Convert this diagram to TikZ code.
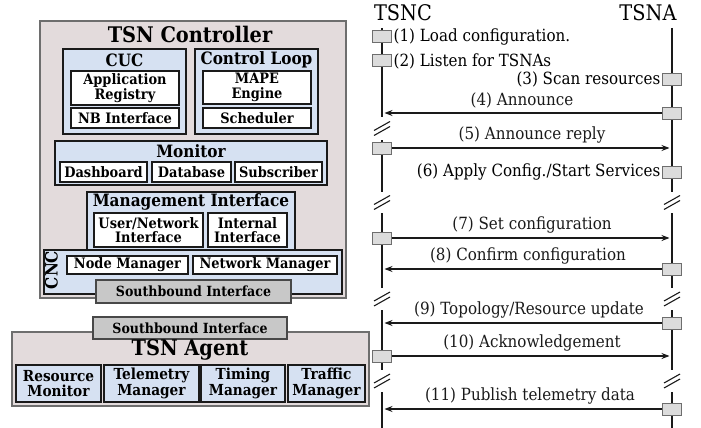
\documentclass[tikz,border=0pt]{standalone}
\usepackage{fontspec}
\setmainfont{DejaVu Serif}[FakeStretch=0.9]
\usetikzlibrary{arrows.meta}

\definecolor{ctrlfill}{HTML}{E3DBDC}
\definecolor{blockfill}{HTML}{D6E1F2}
\definecolor{sbifill}{HTML}{C8C8C8}
\definecolor{actfill}{HTML}{DCDCDC}
\definecolor{edgegray}{HTML}{6E6E6E}
\definecolor{ink}{HTML}{1A1A1A}

\tikzset{
  outerbox/.style={draw=edgegray, line width=1.5pt, fill=ctrlfill, inner sep=0pt},
  blockbox/.style={draw=ink, line width=1.8pt, fill=blockfill, inner sep=0pt},
  itembox/.style={draw=ink, line width=1.3pt, fill=white, inner sep=0pt, align=center,
    font=\bfseries\fontsize{14.4}{14.6}\selectfont},
  agentitem/.style={itembox, fill=blockfill, font=\bfseries\fontsize{15.2}{15.8}\selectfont},
  sbibox/.style={draw=ink!80, line width=1.3pt, fill=sbifill, inner sep=0pt,
    font=\bfseries\fontsize{14}{14}\selectfont},
  bigtitle/.style={font=\bfseries\fontsize{21.5}{21.5}\selectfont, inner sep=0pt},
  blocktitle/.style={font=\bfseries\fontsize{17}{17}\selectfont, inner sep=0pt},
  lifeline/.style={line width=2.6pt, ink},
  breakmark/.style={line width=1.1pt, ink},
  actbox/.style={draw=edgegray, line width=1pt, fill=actfill, minimum width=19, minimum height=12, inner sep=0pt},
  msg/.style={-{Stealth[length=8pt,width=6pt]}, line width=1.2pt, ink, shorten >=2.5pt},
  msglabel/.style={font=\fontsize{16.8}{16.8}\selectfont, inner sep=0pt, above=4pt},
  steplabel/.style={font=\fontsize{16.8}{16.8}\selectfont, inner sep=1.5pt},
  actor/.style={font=\fontsize{21.5}{21.5}\selectfont, inner sep=0pt}
}

\begin{document}
\begin{tikzpicture}[x=1pt, y=-1pt]
  \useasboundingbox (0,0) rectangle (701,428);

  % TSN controller
  \node[outerbox, minimum width=306, minimum height=277] (ctrl) at (193,159.5) {};
  \node[bigtitle] (ctrltitle) at (190,34) {TSN Controller};

  \node[blockbox, minimum width=123, minimum height=85] (cuc) at (124.5,91.5) {};
  \node[blocktitle] (cuctitle) at (124.5,60) {CUC};
  \node[itembox, minimum width=108, minimum height=34] (appreg) at (125,88) {Application\\Registry};
  \node[itembox, minimum width=108, minimum height=20] (nbif) at (125,118) {NB Interface};

  \node[blockbox, minimum width=123, minimum height=85] (loop) at (256.5,91.5) {};
  \node[blocktitle] (looptitle) at (256.5,60) {Control Loop};
  \node[itembox, minimum width=108, minimum height=33] (mape) at (257,87.5) {MAPE\\Engine};
  \node[itembox, minimum width=108, minimum height=20] (sched) at (257,118) {Scheduler};

  \node[blockbox, minimum width=272, minimum height=44] (mon) at (191,163) {};
  \node[blocktitle] (montitle) at (191,151) {Monitor};
  \node[itembox, minimum width=87, minimum height=20] (dash) at (103.5,172) {Dashboard};
  \node[itembox, minimum width=79, minimum height=20] (db) at (191.5,172) {Database};
  \node[itembox, minimum width=87, minimum height=20] (sub) at (278.5,172) {Subscriber};

  \node[blockbox, minimum width=208, minimum height=58] (mgmt) at (191,221) {};
  \node[blocktitle] (mgmttitle) at (191,202) {Management Interface};
  \node[itembox, minimum width=109, minimum height=34] (usernet) at (148.5,230) {User/Network\\Interface};
  \node[itembox, minimum width=79, minimum height=34] (internal) at (247.5,230) {Internal\\Interface};

  \node[blockbox, minimum width=298, minimum height=44] (cnc) at (193,272) {};
  \node[blocktitle, rotate=90] (cnctitle) at (51.5,270) {CNC};
  \node[itembox, minimum width=121, minimum height=18] (nodemgr) at (127.5,265) {Node Manager};
  \node[itembox, minimum width=144, minimum height=18] (netmgr) at (265,265) {Network Manager};
  \node[sbibox, minimum width=195, minimum height=23] (sbictrl) at (193.5,291.5) {Southbound Interface};

  % TSN agent
  \node[outerbox, minimum width=357, minimum height=74] (agent) at (190.5,369) {};
  \node[sbibox, minimum width=194, minimum height=22] (sbiagent) at (190,328) {Southbound Interface};
  \node[bigtitle] (agenttitle) at (190,350) {TSN Agent};
  \node[agentitem, minimum width=85, minimum height=37] (resmon) at (58.5,383.5) {Resource\\Monitor};
  \node[agentitem, minimum width=95, minimum height=37] (telmgr) at (151.5,383.5) {Telemetry\\Manager};
  \node[agentitem, minimum width=84, minimum height=37] (timmgr) at (243,383.5) {Timing\\Manager};
  \node[agentitem, minimum width=77, minimum height=37] (trafmgr) at (326.5,383.5) {Traffic\\Manager};

  % sequence
  \node[actor] (tsnc) at (403,13) {TSNC};
  \node[actor] (tsna) at (648,13) {TSNA};
  \coordinate (ctop) at (382,28);
  \coordinate (atop) at (672,28);

  \draw[lifeline] (382,28) -- (382,117) (382,140) -- (382,192) (382,213) -- (382,288)
    (382,310) -- (382,370) (382,392) -- (382,428);
  \draw[lifeline] (672,28) -- (672,192) (672,213) -- (672,288)
    (672,310) -- (672,370) (672,392) -- (672,428);
  \foreach \x/\y in {382/128.5, 382/202.5, 672/202.5, 382/299, 672/299, 382/381, 672/381}
    \draw[breakmark] (\x-8,\y+2) -- (\x+8,\y-7) (\x-8,\y+7) -- (\x+8,\y-2);

  \node[actbox] (act1) at (382,37) {};
  \node[actbox] (act2) at (382,61) {};
  \node[actbox] (act3) at (672,79) {};
  \node[actbox] (act4) at (672,113) {};
  \node[actbox] (act5) at (382,148) {};
  \node[actbox] (act6) at (672,172) {};
  \node[actbox] (act7) at (382,238) {};
  \node[actbox] (act8) at (672,269) {};
  \node[actbox] (act9) at (672,323) {};
  \node[actbox] (act10) at (382,356) {};
  \node[actbox] (act11) at (672,409) {};

  \node[steplabel, anchor=west] at (act1.east) {(1) Load configuration.};
  \node[steplabel, anchor=west] at (act2.east) {(2) Listen for TSNAs};
  \node[steplabel, anchor=east] at (act3.west) {(3) Scan resources};
  \node[steplabel, anchor=east] at (act6.west) {(6) Apply Config./Start Services};

  \draw[msg] (act4.west) -- (act4.west -| ctop) node[msglabel, midway] {(4) Announce};
  \draw[msg] (act5.east) -- (act5.east -| atop) node[msglabel, midway] {(5) Announce reply};
  \draw[msg] (act7.east) -- (act7.east -| atop) node[msglabel, midway] {(7) Set configuration};
  \draw[msg] (act8.west) -- (act8.west -| ctop) node[msglabel, midway, xshift=6pt] {(8) Confirm configuration};
  \draw[msg] (act9.west) -- (act9.west -| ctop) node[msglabel, midway, xshift=7pt] {(9) Topology/Resource update};
  \draw[msg] (act10.east) -- (act10.east -| atop) node[msglabel, midway] {(10) Acknowledgement};
  \draw[msg] (act11.west) -- (act11.west -| ctop) node[msglabel, midway, xshift=8pt] {(11) Publish telemetry data};
\end{tikzpicture}
\end{document}
